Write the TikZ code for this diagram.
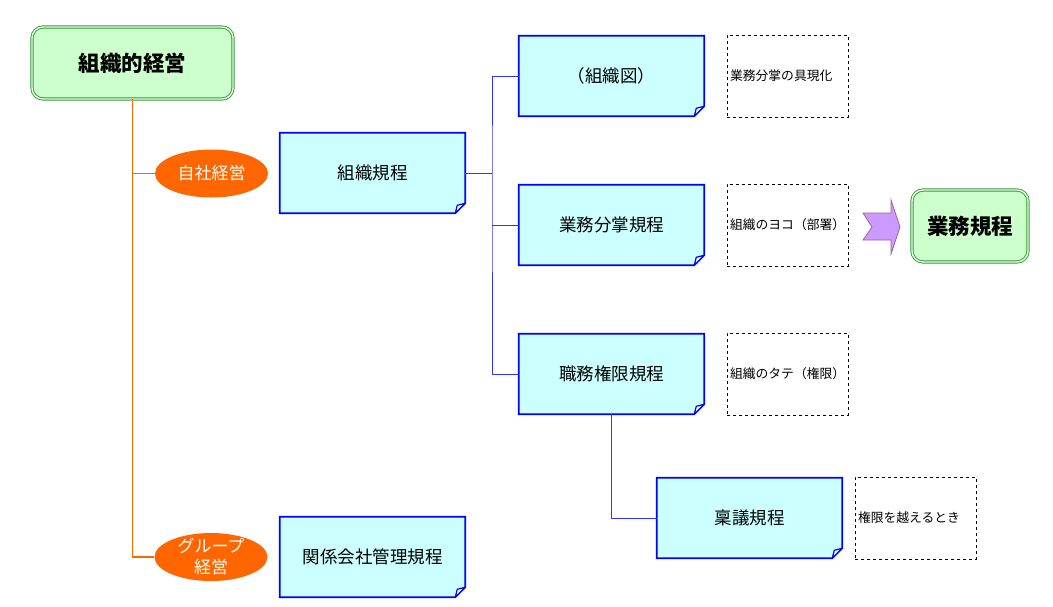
\documentclass[tikz,border=0pt]{standalone}
\usepackage{fontspec}
\setmainfont{Noto Sans CJK JP}
\usetikzlibrary{shapes.geometric,calc,backgrounds}
\definecolor{headfill}{HTML}{CCFFCC}
\definecolor{headline}{HTML}{339933}
\definecolor{rulefill}{HTML}{CCFFFF}
\definecolor{kindfill}{HTML}{FF6600}
\definecolor{linkcol}{HTML}{3333FF}
\definecolor{arrowfill}{HTML}{CC99FF}
\definecolor{arrowline}{HTML}{996699}

\begin{document}
\begin{tikzpicture}[x=1pt,y=-1pt,
  head/.style={draw=headline, double=headfill!40!white, double distance=1.4pt, line width=0.9pt, fill=headfill, rounded corners=11pt, minimum height=72pt, font=\fontsize{21.5}{24}\selectfont\bfseries},
  rule/.style={minimum width=185.5pt, minimum height=80.5pt, outer sep=0pt, font=\fontsize{17.5}{20}\selectfont},
  note/.style={draw, dashed, thin, minimum width=121pt, minimum height=82pt, text width=115pt, inner xsep=3pt, align=left, font=\fontsize{12.8}{15}\selectfont},
  kind/.style={ellipse, fill=kindfill, text=white, minimum width=113pt, minimum height=48pt, inner sep=0pt, align=center, font=\fontsize{17}{21}\selectfont},
  trunk/.style={draw=kindfill, line width=1.5pt},
  link/.style={draw=linkcol, line width=0.9pt}]
\useasboundingbox (0,0) rectangle (1053,606);
\node[head, minimum width=201pt] (keiei) at (132.5,63) {組織的経営};
\node[head, minimum width=116pt] (gyomu) at (970,226) {業務規程};
\node[kind] (jisha) at (211.5,173.5) {自社経営};
\node[kind, inner ysep=-5pt] (group) at (211,557) {グループ\\経営};
\node[rule] (soshiki) at (372.5,173) {組織規程};
\node[rule] (kankei) at (372.5,557) {関係会社管理規程};
\node[rule] (zu) at (611.5,76) {（組織図）};
\node[rule] (bunsho) at (611.5,225) {業務分掌規程};
\node[rule] (shokumu) at (611.5,374) {職務権限規程};
\node[rule] (ringi) at (749.5,518) {稟議規程};
\node[note] (nzu) at (787.5,76) {業務分掌の具現化};
\node[note] (nbunsho) at (787.5,225) {組織のヨコ（部署）};
\node[note] (nshokumu) at (787.5,374) {組織のタテ（権限）};
\node[note] (nringi) at (915.5,518) {権限を越えるとき};
\begin{pgfonlayer}{background}
\foreach \n in {soshiki,kankei,zu,bunsho,shokumu,ringi}{
  \filldraw[draw=blue, line width=1.6pt, fill=rulefill] ($(\n.south east)+(0,-10)$) -- (\n.north east) -- (\n.north west) -- (\n.south west) -- ($(\n.south east)+(-10,0)$) -- cycle;
  \filldraw[draw=blue, line width=1.2pt, fill=rulefill!40!white, line join=round] ($(\n.south east)+(0,-10)$) -- ($(\n.south east)+(-8,-8)$) -- ($(\n.south east)+(-10,0)$) -- cycle;
}
\end{pgfonlayer}
\draw[trunk] (keiei.south) -- (keiei.south |- group.west) -- (group.west);
\draw[trunk] (keiei.south |- jisha.west) -- (jisha.west);
\coordinate (bus) at (492,173);
\draw[link] (soshiki.east) -- (bus);
\draw[link] (zu.west) -| (bus) |- (shokumu.west);
\draw[link] (bus |- bunsho.west) -- (bunsho.west);
\draw[link] (shokumu.south) |- (ringi.west);
\filldraw[fill=arrowfill, draw=arrowline, line width=0.8pt] (863,213) -- (891,213) -- (891,200) -- (900,227) -- (891,254) -- (891,240) -- (863,240) -- (872,227) -- cycle;
\end{tikzpicture}
\end{document}
